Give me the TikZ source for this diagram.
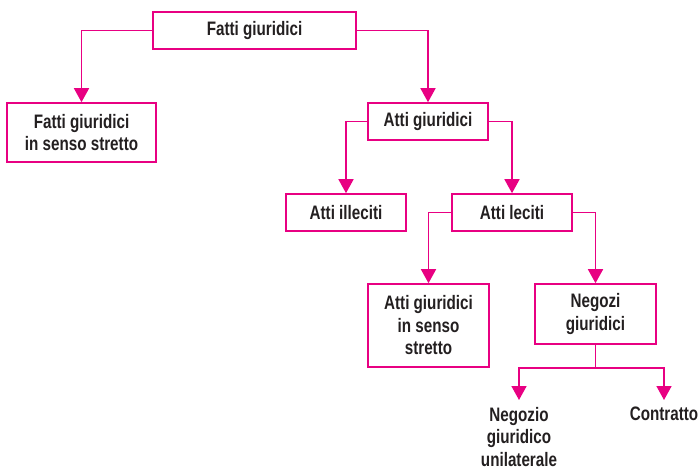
\documentclass[tikz,border=0pt]{standalone}
\usepackage{fontspec}
\setmainfont{Liberation Sans}[FakeStretch=0.78]
\usetikzlibrary{arrows.meta}
\definecolor{pinkline}{RGB}{232,0,130}
\definecolor{txt}{RGB}{35,31,32}
\begin{document}
\begin{tikzpicture}[x=1pt,y=-1pt,
  box/.style={draw=pinkline,line width=1.6pt,inner sep=0pt,align=center,
    text=txt,font=\fontsize{19.5}{22.5}\selectfont\bfseries},
  lbl/.style={inner xsep=0pt,inner ysep=7pt,align=center,anchor=north,
    text=txt,font=\fontsize{19.5}{22.5}\selectfont\bfseries},
  conn/.style={draw=pinkline,line width=1.6pt,-{Triangle[width=15pt,length=14pt]}},
  plain/.style={draw=pinkline,line width=1.6pt}]
\useasboundingbox (0,0) rectangle (699,469);
\node[box,minimum width=203pt,minimum height=37pt] (fg) at (254.5,30.5) {Fatti giuridici};
\node[box,minimum width=149pt,minimum height=59pt] (fgss) at (81.5,132.5) {Fatti giuridici\\in senso stretto};
\node[box,minimum width=120pt,minimum height=37pt] (ag) at (428,121.5) {Atti giuridici};
\node[box,minimum width=120pt,minimum height=37pt] (ai) at (346,212.5) {Atti illeciti};
\node[box,minimum width=120pt,minimum height=37pt] (al) at (512,212.5) {Atti leciti};
\node[box,minimum width=121pt,minimum height=83pt] (agss) at (428.5,325.5) {Atti giuridici\\in senso\\stretto};
\node[box,minimum width=121pt,minimum height=60pt] (ng) at (595.5,314) {Negozi\\giuridici};
\node[lbl] (nu) at (519,400) {Negozio\\giuridico\\unilaterale};
\node[lbl] (co) at (664,400) {Contratto};
\coordinate (bar) at (595.5,368);
\draw[conn] (fg.west) -| (fgss.north);
\draw[conn] (fg.east) -| (ag.north);
\draw[conn] (ag.west) -| (ai.north);
\draw[conn] (ag.east) -| (al.north);
\draw[conn] (al.west) -| (agss.north);
\draw[conn] (al.east) -| (ng.north);
\draw[plain] (ng.south) -- (bar);
\draw[conn] (bar) -| (nu.north);
\draw[conn] (bar) -| (co.north);
\end{tikzpicture}
\end{document}
